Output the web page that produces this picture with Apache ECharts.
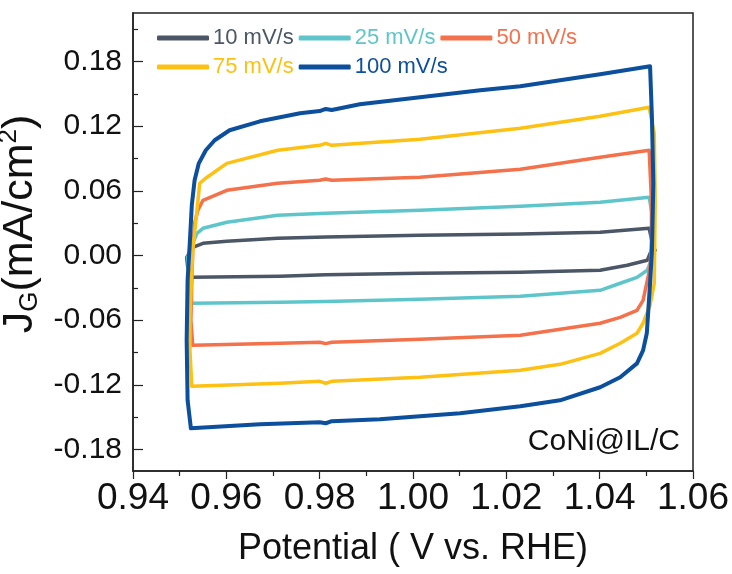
<!DOCTYPE html>
<html>
<head>
<meta charset="utf-8">
<script src="https://cdn.jsdelivr.net/npm/echarts@6/dist/echarts.min.js"></script>
<style>
  html, body { margin: 0; padding: 0; background: #fff; }
  #chart { width: 732px; height: 574px; }
</style>
</head>
<body>
<div id="chart"></div>
<script>
// scan-rate labels and colours
const scanRates = ['10 mV/s', '25 mV/s', '50 mV/s', '75 mV/s', '100 mV/s']
const colors = ['#4b5666', '#5ec6cb', '#f3714b', '#fcc113', '#0c4f9c']

// axis tick labels
const xTicks = [0.94, 0.96, 0.98, 1.00, 1.02, 1.04, 1.06]
const yTicks = [-0.18, -0.12, -0.06, 0.00, 0.06, 0.12, 0.18]
const yMinorTicks = [-0.15, -0.09, -0.03, 0.03, 0.09, 0.15, 0.21]

// CV loops, [potential V vs RHE, current density mA/cm2]
const cv10 = [
  [0.9526, -0.0203], [0.9517, -0.0100], [0.9515, -0.0017], [0.9528, 0.0076],
  [0.9550, 0.0113], [0.9601, 0.0132], [0.9710, 0.0159], [0.9813, 0.0172],
  [1.0015, 0.0187], [1.0230, 0.0200], [1.0401, 0.0215], [1.0506, 0.0252],
  [1.0515, 0.0076], [1.0519, 0.0048], [1.0508, 0.0020], [1.0502, -0.0045],
  [1.0459, -0.0091], [1.0401, -0.0138], [1.0230, -0.0155], [1.0015, -0.0165],
  [0.9813, -0.0180], [0.9715, -0.0193], [0.9526, -0.0203]
]
const cv25 = [
  [0.9526, -0.0444], [0.9520, -0.0230], [0.9517, -0.0017], [0.9528, 0.0113],
  [0.9537, 0.0206], [0.9550, 0.0252], [0.9601, 0.0308], [0.9710, 0.0373],
  [0.9813, 0.0391], [1.0015, 0.0419], [1.0230, 0.0456], [1.0401, 0.0493],
  [1.0506, 0.0540], [1.0513, 0.0372], [1.0515, 0.0204], [1.0513, -0.0017],
  [1.0502, -0.0137], [1.0480, -0.0203], [1.0444, -0.0258], [1.0401, -0.0323],
  [1.0230, -0.0379], [1.0015, -0.0407], [0.9813, -0.0426], [0.9715, -0.0434],
  [0.9526, -0.0444]
]
const cv50 = [
  [0.9528, -0.0834], [0.9524, -0.0601], [0.9526, -0.0258], [0.9528, 0.0048],
  [0.9532, 0.0299], [0.9539, 0.0419], [0.9550, 0.0512], [0.9601, 0.0605],
  [0.9710, 0.0670], [0.9800, 0.0698], [0.9813, 0.0710], [0.9826, 0.0698],
  [1.0015, 0.0726], [1.0230, 0.0800], [1.0401, 0.0911], [1.0506, 0.0976],
  [1.0511, 0.0510], [1.0511, 0.0139], [1.0508, -0.0110], [1.0493, -0.0416],
  [1.0480, -0.0509], [1.0444, -0.0574], [1.0401, -0.0629], [1.0230, -0.0741],
  [1.0015, -0.0778], [0.9826, -0.0806], [0.9813, -0.0818], [0.9800, -0.0806],
  [0.9715, -0.0815], [0.9528, -0.0834]
]
const cv75 = [
  [0.9526, -0.1214], [0.9522, -0.0880], [0.9522, -0.0574], [0.9528, 0.0048],
  [0.9537, 0.0419], [0.9543, 0.0670], [0.9558, 0.0724], [0.9601, 0.0855],
  [0.9710, 0.0976], [0.9800, 0.1022], [0.9813, 0.1040], [0.9826, 0.1022],
  [1.0015, 0.1078], [1.0230, 0.1180], [1.0401, 0.1292], [1.0506, 0.1375],
  [1.0517, 0.1134], [1.0519, 0.0510], [1.0517, -0.0258], [1.0508, -0.0462],
  [1.0493, -0.0629], [1.0480, -0.0722], [1.0444, -0.0815], [1.0401, -0.0908],
  [1.0315, -0.1010], [1.0230, -0.1066], [1.0015, -0.1130], [0.9826, -0.1168],
  [0.9813, -0.1186], [0.9800, -0.1168], [0.9715, -0.1186], [0.9526, -0.1214]
]
const cv100 = [
  [0.9524, -0.1604], [0.9517, -0.1344], [0.9515, -0.0787], [0.9517, -0.0230],
  [0.9522, 0.0141], [0.9526, 0.0466], [0.9532, 0.0698], [0.9541, 0.0855],
  [0.9556, 0.0976], [0.9575, 0.1069], [0.9607, 0.1162], [0.9672, 0.1245],
  [0.9758, 0.1319], [0.9800, 0.1340], [0.9813, 0.1360], [0.9826, 0.1350],
  [0.9886, 0.1403], [1.0015, 0.1468], [1.0144, 0.1533], [1.0230, 0.1570],
  [1.0315, 0.1626], [1.0401, 0.1681], [1.0508, 0.1756], [1.0512, 0.1281],
  [1.0515, 0.0670], [1.0512, 0.0048], [1.0508, -0.0258], [1.0501, -0.0722],
  [1.0493, -0.0880], [1.0480, -0.1001], [1.0444, -0.1130], [1.0401, -0.1223],
  [1.0315, -0.1344], [1.0230, -0.1400], [1.0101, -0.1465], [1.0015, -0.1492],
  [0.9929, -0.1520], [0.9826, -0.1538], [0.9813, -0.1557], [0.9800, -0.1548],
  [0.9672, -0.1567], [0.9524, -0.1604]
]
const loops = [cv10, cv25, cv50, cv75, cv100]

const FONT = "'Liberation Sans', Arial, sans-serif"
const chart = echarts.init(document.getElementById('chart'), null, { renderer: 'canvas' })

const series = loops.map((data, i) => ({
  name: scanRates[i],
  type: 'line',
  data: data,
  symbol: 'none',
  smooth: false,
  color: colors[i],
  lineStyle: { width: i === 4 ? 4 : 3.5, color: colors[i], cap: 'round', join: 'round' },
  z: 2 + i,
  animation: false
}))

function legendRow(names, top) {
  return {
    top: top,
    left: 152,
    orient: 'horizontal',
    icon: 'roundRect',
    itemWidth: 52,
    itemHeight: 5,
    itemGap: 5,
    selectedMode: false,
    textStyle: { fontFamily: FONT, fontSize: 22, padding: [0, 0, 0, -1] },
    data: names.map(n => ({ name: n, textStyle: { color: colors[scanRates.indexOf(n)] } }))
  }
}

chart.setOption({
  backgroundColor: '#fff',
  animation: false,
  grid: {
    left: 133, right: 39, top: 13, bottom: 103,
    outerBoundsMode: 'none',
    containLabel: false,
    show: true, borderColor: '#222', borderWidth: 1.5, backgroundColor: 'transparent'
  },
  legend: [
    legendRow(scanRates.slice(0, 3), 22),
    legendRow(scanRates.slice(3), 51)
  ],
  xAxis: {
    type: 'value',
    min: 0.94, max: 1.06, interval: 0.02,
    name: 'Potential ( V vs. RHE)',
    nameLocation: 'middle',
    nameGap: 60,
    nameTextStyle: { fontFamily: FONT, fontSize: 36, color: '#111' },
    axisLine: { onZero: false, lineStyle: { color: '#222', width: 1.5 } },
    axisTick: { inside: false, length: 8, lineStyle: { color: '#222', width: 1.2 } },
    minorTick: { show: true, splitNumber: 2, length: 5, lineStyle: { color: '#222', width: 1.2 } },
    axisLabel: {
      fontFamily: FONT, fontSize: 37, color: '#111', margin: 9,
      customValues: xTicks,
      formatter: v => v.toFixed(2)
    },
    splitLine: { show: false }
  },
  yAxis: [{
    type: 'value',
    min: -0.2, max: 0.225,
    name: '{a|J}{s|G}{a|(mA/cm}{p|2}{a|)}',
    nameLocation: 'middle',
    nameGap: 47,
    nameRotate: 90,
    nameTextStyle: {
      fontFamily: FONT, color: '#111',
      padding: [0, 0, 0, 36],
      rich: {
        a: { fontFamily: FONT, fontSize: 43, color: '#111' },
        s: { fontFamily: FONT, fontSize: 26, color: '#111', padding: [20, 0, 0, 0] },
        p: { fontFamily: FONT, fontSize: 26, color: '#111', padding: [0, 0, 22, 0] }
      }
    },
    axisLine: { onZero: false, lineStyle: { color: '#222', width: 1.5 } },
    axisTick: { inside: true, length: 10, customValues: yTicks, lineStyle: { color: '#222', width: 1.2 } },
    axisLabel: {
      fontFamily: FONT, fontSize: 30, color: '#111', margin: 11,
      customValues: yTicks,
      formatter: v => v.toFixed(2)
    },
    splitLine: { show: false }
  }, {
    type: 'value',
    position: 'left',
    min: -0.2, max: 0.225,
    axisLine: { show: false },
    axisTick: { inside: true, length: 5, customValues: yMinorTicks, lineStyle: { color: '#222', width: 1.2 } },
    axisLabel: { show: false },
    splitLine: { show: false }
  }],
  graphic: [{
    type: 'text',
    right: 52,
    top: 427,
    style: { text: 'CoNi@IL/C', fontFamily: FONT, fontSize: 30, fill: '#111' }
  }],
  series: series
})
</script>
</body>
</html>
